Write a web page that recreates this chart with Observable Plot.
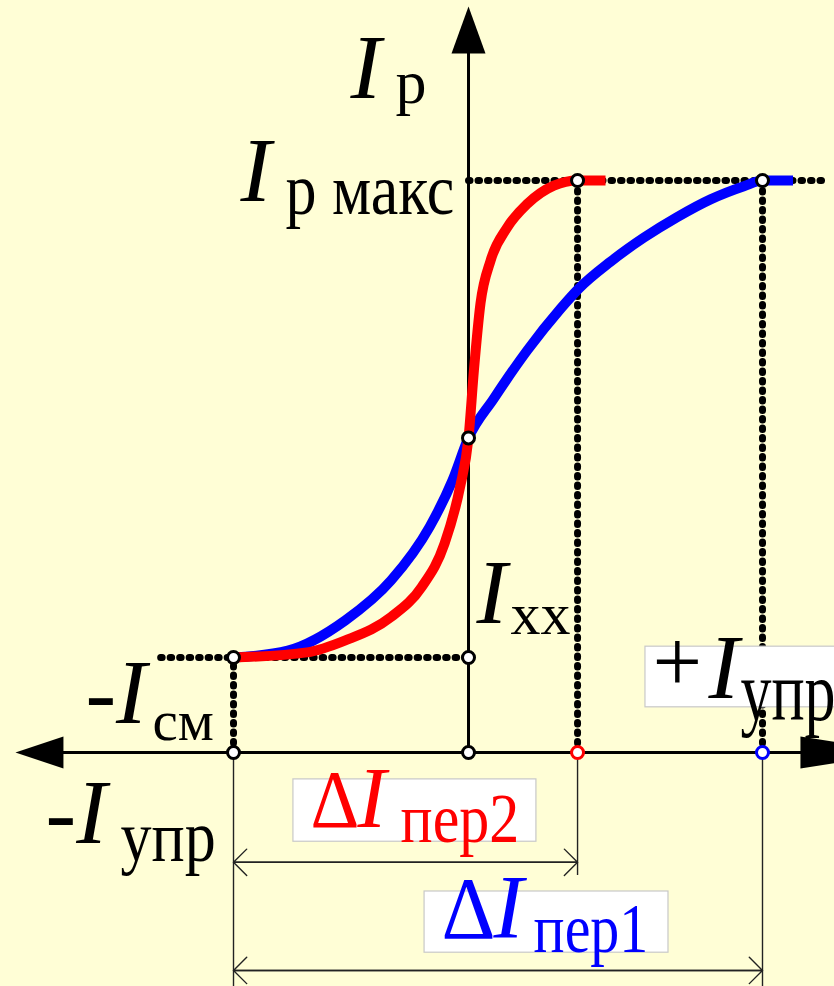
<!DOCTYPE html>
<html>
<head>
<meta charset="utf-8">
<script src="https://cdn.jsdelivr.net/npm/d3@7"></script>
<script src="https://cdn.jsdelivr.net/npm/@observablehq/plot@0.6"></script>
<style>
  html, body { margin: 0; padding: 0; background: #FFFED6; overflow: hidden; }
  #chart svg { display: block; }
</style>
</head>
<body>
<div id="chart"></div>
<script>
// Regulating characteristic of a magnetic amplifier: output current I_р
// against control current I_упр, for two amplifiers (red — steep, blue — gentle).

// Characteristic levels (output current, % of I_р макс)
const iMax = 100;   // I_р макс
const iXX = 55;     // I_xx, no-load current
const iMin = 16.6;  // output current at -I_см

// Control-current points (arbitrary units, -I_см = -100)
const xCm = -100;     // -I_см
const xPer2 = 46.4;   // saturation point of the red curve
const xPer1 = 125.1;  // saturation point of the blue curve

// Red characteristic (narrow transition ΔI_пер2)
const redX = [xCm, -68.7, -52.4, -32.9, -20, -10.2, -3.6, 0, 2.3, 5.1, 9.4, 16.5, 25, 36.3, xPer2, 58.3];
const redY = [iMin, 17.5, 19.6, 23.7, 28.9, 36.5, 46.4, iXX, 66.8, 78.5, 86, 91.8, 95.9, 99.1, iMax, iMax];

// Blue characteristic (wide transition ΔI_пер1)
const blueX = [xCm, -76.9, -52.4, -32.9, -16.6, -6.8, 0, 10.8, 25, 39.2, 46.9, 60.4, 74.6, 88.8, 103, 117.2, xPer1, 138.1];
const blueY = [iMin, 17.8, 23.1, 30.1, 39.4, 47.6, iXX, 61.9, 70.3, 77.6, 81.1, 85.8, 90, 93.6, 96.7, 99, iMax, iMax];

const red = redX.map((x, i) => ({x, y: redY[i]}));
const blue = blueX.map((x, i) => ({x, y: blueY[i]}));

// Marked points on the characteristics and on the axis
const keyPoints = [
  {x: xCm, y: iMin}, {x: 0, y: iMin}, {x: 0, y: iXX},
  {x: xPer2, y: iMax}, {x: xPer1, y: iMax},
  {x: xCm, y: 0}, {x: 0, y: 0}
];
const axisMarks = [
  {x: xPer2, y: 0, c: "#FF0000"},
  {x: xPer1, y: 0, c: "#0000FF"}
];

// Dimension lines for the transition widths
const spans = [
  {from: xCm, to: xPer2, y: -19.2},
  {from: xCm, to: xPer1, y: -38.1}
];

// Filled arrowheads for the axes (tip at the origin of the symbol, pointing up)
const head = (w, l) => ({
  draw(ctx) { ctx.moveTo(0, 0); ctx.lineTo(-w, l); ctx.lineTo(w, l); ctx.closePath(); }
});

const serif = "'Liberation Serif', 'Times New Roman', serif";
const dots = {stroke: "black", strokeWidth: 7, strokeDasharray: "1.5,8", strokeLinecap: "round"};

// One piece of label text; `tall` stretches the glyphs vertically about the baseline
function txt(s, x, y, size, opts = {}, tall = 1) {
  return Plot.text([s], {
    x, y, text: d => d, textAnchor: "start", lineAnchor: "bottom",
    fontFamily: serif, fontSize: size, fill: "black",
    ariaDescription: `tall ${tall}`, ...opts
  });
}
const it = {fontStyle: "italic"};
const box = (x1, x2, y1, y2) =>
  Plot.rect([0], {x1, x2, y1, y2, fill: "white", stroke: "#C8C8C8", strokeWidth: 1.2});

const chart = Plot.plot({
  width: 834,
  height: 986,
  margin: 0,
  x: {domain: [-199.15, 155.74]},
  y: {domain: [-40.91, 131.47]},
  axis: null,
  style: {background: "#FFFED6", overflow: "hidden"},
  marks: [
    // dotted construction lines
    Plot.link([0], {x1: 0, x2: 150.6, y1: iMax, y2: iMax, ...dots}),
    Plot.link([0], {x1: -131, x2: 0, y1: iMin, y2: iMin, ...dots}),
    Plot.link([xCm, xPer2, xPer1], {x1: d => d, x2: d => d, y1: 0, y2: (d) => d === xCm ? iMin : iMax, ...dots}),

    // thin extension lines below the axis
    Plot.ruleX([xCm, xPer1], {y1: 0, y2: -41, stroke: "#222", strokeWidth: 1.4}),
    Plot.ruleX([xPer2], {y1: 0, y2: -21.5, stroke: "#222", strokeWidth: 1.4}),

    // dimension arrows
    Plot.arrow(spans, {x1: "from", x2: "to", y1: "y", y2: "y", stroke: "#222", strokeWidth: 1.4, headLength: 20, headAngle: 90}),
    Plot.arrow(spans, {x1: "to", x2: "from", y1: "y", y2: "y", stroke: "#222", strokeWidth: 1.4, headLength: 20, headAngle: 90}),

    // axes
    Plot.ruleY([0], {x1: -185, x2: 170, stroke: "black", strokeWidth: 3}),
    Plot.ruleX([0], {y1: 0, y2: 124, stroke: "black", strokeWidth: 3}),
    Plot.dot([0], {x: 0, y: 130.4, symbol: head(17, 47), fill: "black", stroke: null, rotate: 0}),
    Plot.dot([0], {x: -192.8, y: 0, symbol: head(16, 48), fill: "black", stroke: null, rotate: -90}),
    Plot.dot([0], {x: 183.8, y: 0, symbol: head(16, 100), fill: "black", stroke: null, rotate: 90}),

    // label backgrounds
    box(-74.5, 28.9, -4.7, -15.6),
    box(-18.7, 85.1, -24.3, -35),
    box(75.3, 160, 18.5, 7.9),

    // characteristics
    Plot.line(blue, {x: "x", y: "y", stroke: "#0000FF", strokeWidth: 10, curve: "monotone-x", strokeLinecap: "butt"}),
    Plot.line(red, {x: "x", y: "y", stroke: "#FF0000", strokeWidth: 10, curve: "monotone-x", strokeLinecap: "butt"}),

    // marked points
    Plot.dot(keyPoints, {x: "x", y: "y", r: 6, fill: "white", stroke: "black", strokeWidth: 3}),
    Plot.dot(axisMarks, {x: "x", y: "y", r: 6, fill: "white", stroke: "c", strokeWidth: 3}),

    // labels
    txt("I", -50.2, 114.5, 92, it),
    txt("р", -31.1, 113.5, 62),
    txt("I", -97, 96.5, 92, it),
    txt("р макс", -77.9, 94.2, 62, {}, 1.16),
    txt("I", 3.4, 22.7, 92, it),
    txt("хх", 17.9, 20.8, 60),
    txt("-I", -163, 5.2, 92, it),
    txt("см", -134.5, 2.1, 57),
    txt("-I", -180, -15.9, 92, it),
    txt("упр", -148.1, -18.9, 62, {}, 1.16),
    txt("+", 78.3, 10.8, 88),
    txt("I", 102.1, 9.6, 92, it),
    txt("упр", 115.7, 5.6, 62, {}, 1.35),
    txt("Δ", -67.2, -13.1, 76, {fill: "#FF0000"}, 1.08),
    txt("I", -47.2, -13.1, 86, {fill: "#FF0000", ...it}),
    txt("пер2", -28.9, -15.7, 60, {fill: "#FF0000"}, 1.15),
    txt("Δ", -11.5, -32.5, 84, {fill: "#0000FF"}, 1.05),
    txt("I", 10.6, -32.5, 90, {fill: "#0000FF", ...it}),
    txt("пер1", 27.7, -34.8, 58, {fill: "#0000FF"}, 1.2)
  ]
});

// Stretch the taller label pieces about their baselines
d3.select(chart).selectAll("g[aria-description]").each(function() {
  const k = +this.getAttribute("aria-description").split(" ")[1];
  if (k !== 1) d3.select(this).selectAll("text").attr("transform", function() {
    return `${this.getAttribute("transform") || ""} scale(1,${k})`;
  });
});

document.getElementById("chart").append(chart);
</script>
</body>
</html>
